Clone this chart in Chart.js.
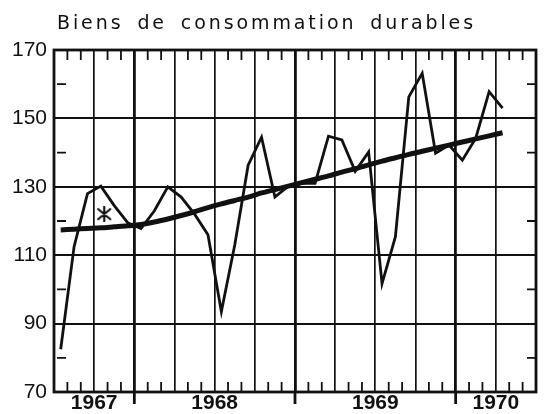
<!DOCTYPE html>
<html>
<head>
<meta charset="utf-8">
<script src="https://cdn.jsdelivr.net/npm/chart.js@4.4.1/dist/chart.umd.min.js"></script>
<style>
  html, body { margin: 0; padding: 0; background: #fff; }
  #wrap { position: relative; width: 545px; height: 414px; }
  #title {
    position: absolute; left: 57px; top: 11px;
    font-family: 'DejaVu Sans', sans-serif; font-size: 19px;
    letter-spacing: 2.9px; word-spacing: 5px; color: #111; white-space: nowrap;
  }
</style>
</head>
<body>
<div id="wrap">
  <div id="title">Biens de consommation durables</div>
  <canvas id="chart" width="545" height="414"></canvas>
</div>
<script>
// monthly series, July 1967 -> April 1970
const startYear = 1967;
const startMonth = 7;
const years = ['1967', '1968', '1969', '1970'];
const seriesValues = [
    82.5, 112.5, 128, 130.2, 124.5, 119.5,        // 1967 jul-dec
    117.8, 123, 130, 127, 122, 116,              // 1968 jan-jun
    93.5, 113, 136.3, 144.5, 127, 130.2,         // 1968 jul-dec
    131, 131, 144.8, 143.7, 134.5, 140.2,        // 1969 jan-jun
    101.7, 115.4, 156.3, 163.2, 139.8, 142.2,    // 1969 jul-dec
    137.8, 144.2, 157.8, 153                      // 1970 jan-apr
];
const trendValues = [
    117.4, 117.6, 117.8, 118.0, 118.3, 118.6,
    119.0, 119.7, 120.6, 121.6, 122.7, 123.9,
    125.0, 126.0, 127.0, 128.2, 129.2, 130.2,
    131.2, 132.2, 133.2, 134.3, 135.3, 136.4,
    137.5, 138.5, 139.5, 140.4, 141.3, 142.2,
    143.1, 144.0, 144.9, 145.8
];
// the "*" mark in 1967 (month offset, value)
const starX = [3.75];
const starY = [122];
const yTicks = [70, 90, 110, 130, 150, 170];

const monthsShown = 36;
const ink = '#111';

// month offset where each year starts, and centre of its visible part
const yearStart = years.map((y, i) => i * 12 - (startMonth - 1));
const yearLabelAt = {};
years.forEach((y, i) => {
    const a = Math.max(0, yearStart[i]);
    const b = Math.min(monthsShown, yearStart[i] + 12);
    yearLabelAt[(a + b) / 2] = y;
});
const yearBounds = yearStart.filter(v => v > 0 && v < monthsShown);

// six-armed asterisk for the star point
const starImg = document.createElement('canvas');
starImg.width = 16; starImg.height = 16;
(function () {
    const c = starImg.getContext('2d');
    c.strokeStyle = ink;
    c.lineWidth = 2.2;
    c.lineCap = 'round';
    c.beginPath();
    c.moveTo(8, 1); c.lineTo(8, 15);
    c.moveTo(2, 3); c.lineTo(14, 13);
    c.moveTo(14, 3); c.lineTo(2, 13);
    c.stroke();
})();

const framePlugin = {
    id: 'frame',
    afterDatasetsDraw(chart) {
        const { ctx, chartArea: a, scales: { x, y } } = chart;
        ctx.save();
        ctx.strokeStyle = ink;
        // small month ticks top and bottom
        ctx.lineWidth = 1.8;
        for (let m = 1; m < monthsShown; m++) {
            if (m % 3 === 0) continue;
            const px = x.getPixelForValue(m);
            ctx.beginPath();
            ctx.moveTo(px, a.top); ctx.lineTo(px, a.top + 10);
            ctx.moveTo(px, a.bottom); ctx.lineTo(px, a.bottom - 10);
            ctx.stroke();
        }
        // small value ticks left and right
        for (let v = 80; v < 170; v += 20) {
            const py = y.getPixelForValue(v);
            ctx.beginPath();
            ctx.moveTo(a.left + 3, py); ctx.lineTo(a.left + 12, py);
            ctx.moveTo(a.right, py); ctx.lineTo(a.right - 9, py);
            ctx.stroke();
        }
        // year boundaries run below the axis
        ctx.lineWidth = 2.8;
        yearBounds.forEach(v => {
            const px = x.getPixelForValue(v);
            ctx.beginPath();
            ctx.moveTo(px, a.bottom); ctx.lineTo(px, a.bottom + 12);
            ctx.stroke();
        });
        ctx.lineWidth = 2.8;
        ctx.strokeRect(a.left, a.top, a.right - a.left, a.bottom - a.top);
        ctx.restore();
    }
};

new Chart(document.getElementById('chart'), {
    type: 'line',
    data: {
        datasets: [
            {
                data: seriesValues.map((v, i) => ({ x: i + 0.5, y: v })),
                borderColor: ink,
                borderWidth: 2.8,
                pointRadius: 0,
                tension: 0,
                fill: false
            },
            {
                data: trendValues.map((v, i) => ({ x: i + 0.5, y: v })),
                borderColor: ink,
                borderWidth: 5,
                pointRadius: 0,
                tension: 0.3,
                fill: false
            },
            {
                type: 'scatter',
                data: starX.map((v, i) => ({ x: v, y: starY[i] })),
                pointStyle: starImg,
                pointRadius: 8
            }
        ]
    },
    options: {
        responsive: false,
        animation: false,
        events: [],
        layout: { padding: { top: 50, right: 3, left: 0, bottom: 0 } },
        plugins: { legend: { display: false }, tooltip: { enabled: false } },
        scales: {
            x: {
                type: 'linear',
                min: 0,
                max: monthsShown,
                afterFit: s => { s.height = 22; },
                afterBuildTicks: s => {
                    s.ticks = [];
                    for (let m = 0; m <= monthsShown; m += 3) s.ticks.push({ value: m });
                },
                border: { display: false },
                grid: {
                    color: ink,
                    drawTicks: false,
                    lineWidth: c => yearBounds.includes(c.tick && c.tick.value) ? 2.8 : 1.7
                },
                ticks: {
                    autoSkip: false,
                    maxRotation: 0,
                    padding: -1,
                    color: ink,
                    font: { family: 'Liberation Sans', size: 21, weight: 'bold' },
                    callback: v => yearLabelAt[v] || ''
                }
            },
            y: {
                min: 70,
                max: 170,
                afterFit: s => { s.width = 54; },
                afterBuildTicks: s => { s.ticks = yTicks.map(v => ({ value: v })); },
                border: { display: false },
                grid: { color: ink, lineWidth: 1.9, drawTicks: false },
                ticks: {
                    padding: 7,
                    color: ink,
                    font: { family: 'Liberation Sans', size: 21 }
                }
            }
        }
    },
    plugins: [framePlugin]
});
</script>
</body>
</html>
